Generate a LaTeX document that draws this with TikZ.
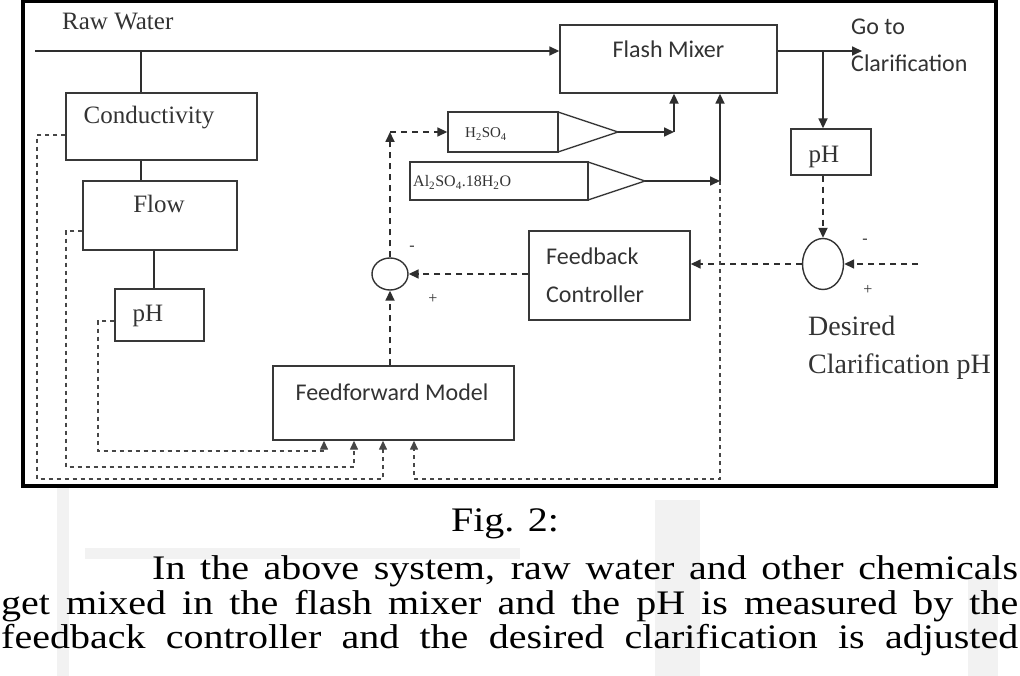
\documentclass[tikz,border=0pt]{standalone}
\usepackage{fontspec}
\setmainfont{Liberation Serif}
\newfontfamily\sansf{Carlito}
\usetikzlibrary{arrows.meta,shapes.geometric,calc}
\begin{document}
\begin{tikzpicture}[x=1pt,y=-1pt,
  box/.style={draw=black!78, line width=1.4pt, inner sep=0, rectangle},
  sumnode/.style={draw=black!80, line width=1.4pt, ellipse, inner sep=0},
  conn/.style={draw=black!82, line width=1.7pt},
  arr/.style={-{Triangle[length=10pt,width=9pt]}},
  sarr/.style={-{Triangle[length=9pt,width=8pt]}},
  fbline/.style={draw=black!82, line width=1.7pt, dash pattern=on 6pt off 5pt},
  ffline/.style={draw=black!72, line width=1.4pt, dash pattern=on 4pt off 4pt},
  serif/.style={font=\fontsize{25}{28}\selectfont, text=black!80, inner sep=0},
  sans/.style={font=\sansf\fontsize{24}{28}\selectfont, text=black!80, inner sep=0},
  small/.style={font=\fontsize{16}{18}\selectfont, text=black!80, inner sep=0},
  body/.style={font=\fontsize{40}{45}\selectfont, text=black, inner sep=0},
  wm/.style={fill=black!5, draw=none}
]
\useasboundingbox (0,0) rectangle (1020,676);
\fill[white] (0,0) rectangle (1020,676);
% faint watermark blocks
\fill[wm] (57,488) rectangle (69,676);
\fill[wm] (85,548) rectangle (520,559);
\fill[wm] (655,500) rectangle (700,676);
\fill[wm] (968,575) rectangle (998,676);
% frame
\draw[line width=3.5pt] (23,1.75) rectangle (996,486);

% boxes
\node[box, minimum width=217pt, minimum height=68pt] (FM) at (668.5,59) {};
\node[sans, anchor=base] (FMt) at (668.5,58) {Flash Mixer};
\node[box, minimum width=191pt, minimum height=67pt] (C) at (161.5,126.5) {};
\node[serif, anchor=base] (Ct) at (149,124) {Conductivity};
\node[box, minimum width=154pt, minimum height=69pt] (F) at (160,215.5) {};
\node[serif, anchor=base] (Ft) at (159,213) {Flow};
\node[box, minimum width=89pt, minimum height=52pt] (P1) at (159.5,315) {};
\node[serif, anchor=base] (P1t) at (148,322) {pH};
\node[box, minimum width=241pt, minimum height=74pt] (FF) at (393.5,403) {};
\node[sans, anchor=base] (FFt) at (392,400) {Feedforward Model};
\node[sumnode, minimum width=36pt, minimum height=32pt] (S1) at (390,274) {};
\node[small] (m1) at (412,248) {-};
\node[small] (p1) at (433,299) {+};
\node[box, minimum width=161pt, minimum height=89pt] (FB) at (609.5,275.5) {};
\node[sans, anchor=base west] (FBt1) at (546,265) {Feedback};
\node[sans, anchor=base west] (FBt2) at (546,302) {Controller};
\node[box, minimum width=110pt, minimum height=40pt] (H) at (503,132) {};
\node[font=\fontsize{15}{17}\selectfont, text=black!80, inner sep=0, anchor=base west] (Ht) at (465,138) {H\textsubscript{2}SO\textsubscript{4}};
\draw[box] (558,112) -- (618,132) coordinate (T1) -- (558,152);
\node[box, minimum width=178pt, minimum height=38pt] (A) at (499,181) {};
\node[font=\fontsize{16}{18}\selectfont, text=black!80, inner sep=0, anchor=base west] (At) at (413,187) {Al\textsubscript{2}SO\textsubscript{4}.18H\textsubscript{2}O};
\draw[box] (588,162) -- (645,181) coordinate (T2) -- (588,200);
\node[box, minimum width=80pt, minimum height=46pt] (P2) at (831,152) {};
\node[serif, anchor=base] (P2t) at (824,163) {pH};
\node[sumnode, minimum width=41pt, minimum height=51pt] (S2) at (823,264) {};
\node[small] (m2) at (865,241) {-};
\node[small] (p2) at (868,290) {+};

% labels
\node[serif, anchor=base west] (rwt) at (62,30) {Raw Water};
\node[sans, anchor=base west] (go1) at (851,35) {Go to};
\node[sans, anchor=base west] (go2) at (851,72) {Clarification};
\node[serif, font=\fontsize{28}{30}\selectfont, anchor=base west] (d1) at (808,335) {Desired};
\node[serif, font=\fontsize{28}{30}\selectfont, anchor=base west] (d2) at (808,373) {Clarification pH};

% solid connectors
\coordinate (rw) at (35,51);
\draw[conn, arr] (rw) -- (rw -| FM.west);
\coordinate (j1) at (141,51);
\draw[conn] (j1) -- (j1 |- C.north);
\draw[conn] (C.south -| j1) -- (F.north -| j1);
\coordinate (j2) at (154,250);
\draw[conn] (F.south -| j2) -- (P1.north -| j2);
\coordinate (go) at (862,51);
\draw[conn, arr] (go -| FM.east) -- (go);
\coordinate (j3) at (823,51);
\draw[conn, arr] (j3) -- (j3 |- P2.north);
\coordinate (c1) at (674,132);
\draw[conn, arr] (T1) -- (c1);
\draw[conn, arr] (c1) -- (c1 |- FM.south);
\coordinate (c2) at (720,181);
\draw[conn, arr] (T2) -- (c2);
\draw[conn, arr] (c2) -- (c2 |- FM.south);

% feedback dashed connectors
\draw[fbline, arr] (S2.north |- P2.south) -- (S2.north);
\coordinate (dp) at (918,264);
\draw[fbline, arr] (dp) -- (S2.east);
\draw[fbline, arr] (S2.west) -- (S2.west -| FB.east);
\draw[fbline, arr] (S1.east -| FB.west) -- (S1.east);
\draw[fbline, arr] (S1.south |- FF.north) -- (S1.south);
\coordinate (c3) at (S1.north |- H.west);
\draw[fbline, arr] (S1.north) -- (c3);
\draw[fbline, arr] (c3) -- (H.west);

% feedforward measurement lines
\draw[ffline, sarr] (C.west |- 0,135) -- (37,135) -- (37,479) -- (383,479) -- (FF.south -| 383,0);
\draw[ffline, sarr] (F.west |- 0,231) -- (66,231) -- (66,467) -- (354,467) -- (FF.south -| 354,0);
\draw[ffline, sarr] (P1.west |- 0,321) -- (98,321) -- (98,451) -- (324,451) -- (FF.south -| 324,0);
\draw[ffline, sarr] (c2) -- (720,479) -- (414,479) -- (FF.south -| 414,0);

% caption and text
\node[body, anchor=base] (cap) at (505,531) {\scalebox{1}[0.86]{Fig. 2:}};
\node[body, anchor=base west] (l1) at (152,579) {\scalebox{1}[0.86]{\makebox[866pt][s]{In the above system, raw water and other chemicals}}};
\node[body, anchor=base west] (l2) at (1,614) {\scalebox{1}[0.86]{\makebox[1017pt][s]{get mixed in the flash mixer and the pH is measured by the}}};
\node[body, anchor=base west] (l3) at (1,648) {\scalebox{1}[0.86]{\makebox[1017pt][s]{feedback controller and the desired clarification is adjusted}}};
\end{tikzpicture}
\end{document}
